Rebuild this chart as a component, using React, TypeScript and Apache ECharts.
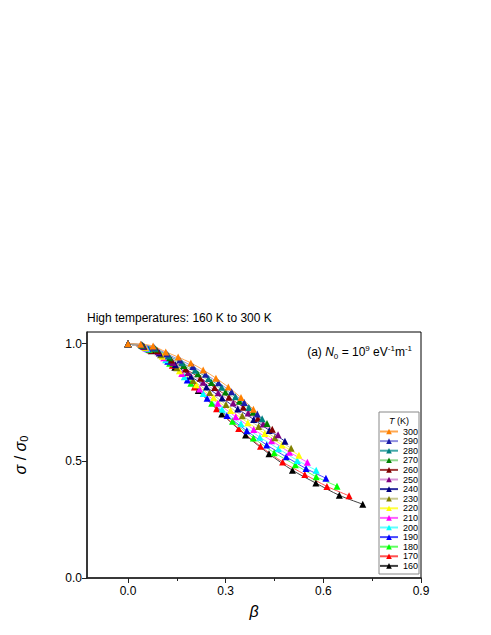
import React, { useEffect, useRef } from "react";
import * as echarts from "echarts";

const temps = ["300", "290", "280", "270", "260", "250", "240", "230", "220", "210", "200", "190", "180", "170", "160"];
const markerColors = ["#ff8000", "#1c1ca8", "#008080", "#008000", "#800000", "#800080", "#000080", "#808000", "#ffff00", "#ff00ff", "#00ffff", "#0000ff", "#00ff00", "#ff0000", "#000000"];
const lineColors = ["#ffa850", "#9090e0", "#40a8a8", "#90d890", "#a03838", "#d898d8", "#3030a0", "#c8c890", "#ffff40", "#ff60ff", "#60ffff", "#4848ff", "#60ff60", "#ff5050", "#404040"];

const beta300 = [0, 0.039, 0.077, 0.116, 0.154, 0.193, 0.231, 0.27, 0.308, 0.347, 0.385];
const sigma300 = [1, 0.998, 0.99, 0.965, 0.943, 0.918, 0.888, 0.853, 0.815, 0.77, 0.72];
const beta290 = [0, 0.04, 0.079, 0.119, 0.159, 0.199, 0.238, 0.278, 0.318, 0.357, 0.397];
const sigma290 = [1, 0.997, 0.986, 0.957, 0.931, 0.903, 0.87, 0.833, 0.795, 0.749, 0.7];
const beta280 = [0, 0.041, 0.082, 0.124, 0.165, 0.206, 0.247, 0.288, 0.33, 0.371, 0.412];
const sigma280 = [1, 0.995, 0.981, 0.949, 0.919, 0.887, 0.852, 0.814, 0.774, 0.728, 0.68];
const beta270 = [0, 0.043, 0.085, 0.128, 0.171, 0.214, 0.256, 0.299, 0.342, 0.384, 0.427];
const sigma270 = [1, 0.994, 0.977, 0.94, 0.907, 0.872, 0.834, 0.794, 0.754, 0.707, 0.659];
const beta260 = [0, 0.044, 0.089, 0.133, 0.177, 0.222, 0.266, 0.31, 0.354, 0.399, 0.443];
const sigma260 = [1, 0.992, 0.971, 0.93, 0.892, 0.853, 0.813, 0.771, 0.729, 0.682, 0.635];
const beta250 = [0, 0.046, 0.092, 0.138, 0.184, 0.231, 0.277, 0.323, 0.369, 0.415, 0.461];
const sigma250 = [1, 0.99, 0.966, 0.92, 0.877, 0.835, 0.791, 0.747, 0.704, 0.657, 0.611];
const beta240 = [0, 0.048, 0.096, 0.145, 0.193, 0.241, 0.289, 0.337, 0.386, 0.434, 0.482];
const sigma240 = [1, 0.989, 0.96, 0.91, 0.861, 0.815, 0.768, 0.721, 0.677, 0.63, 0.584];
const beta230 = [0, 0.05, 0.1, 0.15, 0.2, 0.251, 0.301, 0.351, 0.401, 0.451, 0.501];
const sigma230 = [1, 0.987, 0.953, 0.897, 0.843, 0.792, 0.741, 0.692, 0.647, 0.599, 0.554];
const beta220 = [0, 0.053, 0.105, 0.158, 0.21, 0.263, 0.315, 0.368, 0.42, 0.473, 0.525];
const sigma220 = [1, 0.984, 0.946, 0.885, 0.825, 0.769, 0.715, 0.663, 0.617, 0.568, 0.524];
const beta210 = [0, 0.055, 0.11, 0.165, 0.22, 0.276, 0.331, 0.386, 0.441, 0.496, 0.551];
const sigma210 = [1, 0.982, 0.94, 0.873, 0.807, 0.746, 0.688, 0.634, 0.586, 0.537, 0.494];
const beta200 = [0, 0.058, 0.116, 0.173, 0.231, 0.289, 0.347, 0.405, 0.462, 0.52, 0.578];
const sigma200 = [1, 0.98, 0.932, 0.859, 0.787, 0.72, 0.658, 0.601, 0.552, 0.502, 0.46];
const beta190 = [0, 0.061, 0.122, 0.182, 0.243, 0.304, 0.365, 0.426, 0.486, 0.547, 0.608];
const sigma190 = [1, 0.978, 0.925, 0.845, 0.767, 0.694, 0.628, 0.568, 0.517, 0.467, 0.426];
const beta180 = [0, 0.064, 0.128, 0.193, 0.257, 0.321, 0.385, 0.449, 0.514, 0.578, 0.642];
const sigma180 = [1, 0.975, 0.917, 0.831, 0.746, 0.669, 0.598, 0.535, 0.483, 0.432, 0.392];
const beta170 = [0, 0.068, 0.136, 0.204, 0.272, 0.34, 0.407, 0.475, 0.543, 0.611, 0.679];
const sigma170 = [1, 0.973, 0.908, 0.815, 0.722, 0.638, 0.562, 0.495, 0.442, 0.391, 0.351];
const beta160 = [0, 0.072, 0.144, 0.216, 0.288, 0.361, 0.433, 0.505, 0.577, 0.649, 0.721];
const sigma160 = [1, 0.97, 0.9, 0.8, 0.7, 0.61, 0.53, 0.46, 0.405, 0.353, 0.315];

const betas = [beta300, beta290, beta280, beta270, beta260, beta250, beta240, beta230, beta220, beta210, beta200, beta190, beta180, beta170, beta160];
const sigmas = [sigma300, sigma290, sigma280, sigma270, sigma260, sigma250, sigma240, sigma230, sigma220, sigma210, sigma200, sigma190, sigma180, sigma170, sigma160];

const xMajorTicks = [0, 0.3, 0.6, 0.9];
const xMinorTicks = [0.15, 0.45, 0.75];
const yTicks = [0, 0.5, 1.0];

const FONT = "'Liberation Sans', Arial, sans-serif";

export default function App() {
  const ref = useRef<HTMLDivElement>(null);
  useEffect(() => {
    if (!ref.current) return;
    const chart = echarts.init(ref.current, null, { renderer: "svg" });
    const series: any[] = [];
    for (let i = temps.length - 1; i >= 0; i--) {
      series.push({
        type: "line",
        name: temps[i],
        xAxisIndex: 0,
        yAxisIndex: 0,
        data: betas[i].map((b, k) => [b, sigmas[i][k]]),
        symbol: "triangle",
        symbolSize: 7,
        showSymbol: true,
        smooth: 0.3,
        lineStyle: { color: lineColors[i], width: 1 },
        itemStyle: { color: markerColors[i], borderWidth: 0 },
        emphasis: { disabled: true },
      });
    }
    const option: any = {
      animation: false,
      textStyle: { fontFamily: FONT },
      grid: {
        left: 87,
        top: 332,
        right: 70,
        bottom: 57,
        show: true,
        borderColor: "#000",
        borderWidth: 1,
        backgroundColor: "transparent",
      },
      xAxis: [
        {
          type: "value",
          min: -0.126,
          max: 0.9,
          position: "bottom",
          name: "β",
          nameLocation: "middle",
          nameGap: 25,
          nameTextStyle: { fontSize: 16, fontStyle: "italic", color: "#000", fontFamily: FONT },
          axisLine: { show: true, onZero: false, lineStyle: { color: "#222", width: 1.5 } },
          axisTick: { show: true, inside: false, length: 5, customValues: xMajorTicks, lineStyle: { color: "#222", width: 1 } },
          axisLabel: { show: true, customValues: xMajorTicks, formatter: (v: number) => v.toFixed(1), fontSize: 12, color: "#000", margin: 7, fontFamily: FONT },
          splitLine: { show: false },
        },
        {
          type: "value",
          min: -0.126,
          max: 0.9,
          position: "bottom",
          axisLine: { show: false, onZero: false },
          axisTick: { show: true, inside: false, length: 3, customValues: xMinorTicks, lineStyle: { color: "#222", width: 1 } },
          axisLabel: { show: false },
          splitLine: { show: false },
        },
      ],
      yAxis: [
        {
          type: "value",
          min: 0,
          max: 1.05,
          name: "{i|σ} / {i|σ}{s|0}",
          nameLocation: "middle",
          nameRotate: 90,
          nameGap: 58,
          nameTextStyle: {
            color: "#000",
            fontSize: 16,
            fontFamily: FONT,
            rich: {
              i: { fontSize: 16, fontStyle: "italic", fontFamily: FONT, color: "#000" },
              s: { fontSize: 11, fontFamily: FONT, color: "#000", verticalAlign: "bottom", padding: [6, 0, 0, 0] },
            },
          },
          axisLine: { show: true, onZero: false, lineStyle: { color: "#222", width: 1.5 } },
          axisTick: { show: true, inside: false, length: 5, customValues: yTicks, lineStyle: { color: "#222", width: 1 } },
          axisLabel: { show: true, customValues: yTicks, formatter: (v: number) => v.toFixed(1), fontSize: 12, color: "#000", margin: 5, fontFamily: FONT },
          splitLine: { show: false },
        },
      ],
      legend: {
        data: temps,
        orient: "vertical",
        left: 379,
        top: 427,
        itemWidth: 18,
        itemHeight: 7,
        itemGap: 0.6,
        padding: 0,
        textStyle: { fontSize: 9, color: "#000", fontFamily: FONT },
        selectedMode: false,
      },
      graphic: [
        {
          type: "rect",
          shape: { x: 379, y: 412, width: 40, height: 162 },
          style: { fill: "none", stroke: "#888", lineWidth: 1 },
          z: 10,
        },
        {
          type: "text",
          x: 399,
          y: 421,
          style: {
            text: "{i|T} (K)",
            align: "center",
            verticalAlign: "middle",
            font: `9px ${FONT}`,
            fill: "#000",
            rich: { i: { fontStyle: "italic", fontSize: 9, fontFamily: FONT, fill: "#000" } },
          },
          z: 10,
        },
        {
          type: "text",
          x: 87,
          y: 318,
          style: {
            text: "High temperatures: 160 K to 300 K",
            align: "left",
            verticalAlign: "middle",
            font: `12px ${FONT}`,
            fill: "#000",
          },
        },
        {
          type: "text",
          x: 412,
          y: 352,
          style: {
            text: "(a) {i|N}{s|0} = 10{p|9} eV{p|-1}m{p|-1}",
            align: "right",
            verticalAlign: "middle",
            font: `12px ${FONT}`,
            fill: "#000",
            rich: {
              i: { fontStyle: "italic", fontSize: 12, fontFamily: FONT, fill: "#000" },
              s: { fontSize: 8, fontFamily: FONT, fill: "#000", padding: [8, 0, 0, 0] },
              p: { fontSize: 8, fontFamily: FONT, fill: "#000", padding: [0, 0, 8, 0] },
            },
          },
        },
      ],
      series,
    };
    chart.setOption(option);
    return () => chart.dispose();
  }, []);
  return <div ref={ref} style={{ width: 491, height: 635, margin: -8 }} />;
}
